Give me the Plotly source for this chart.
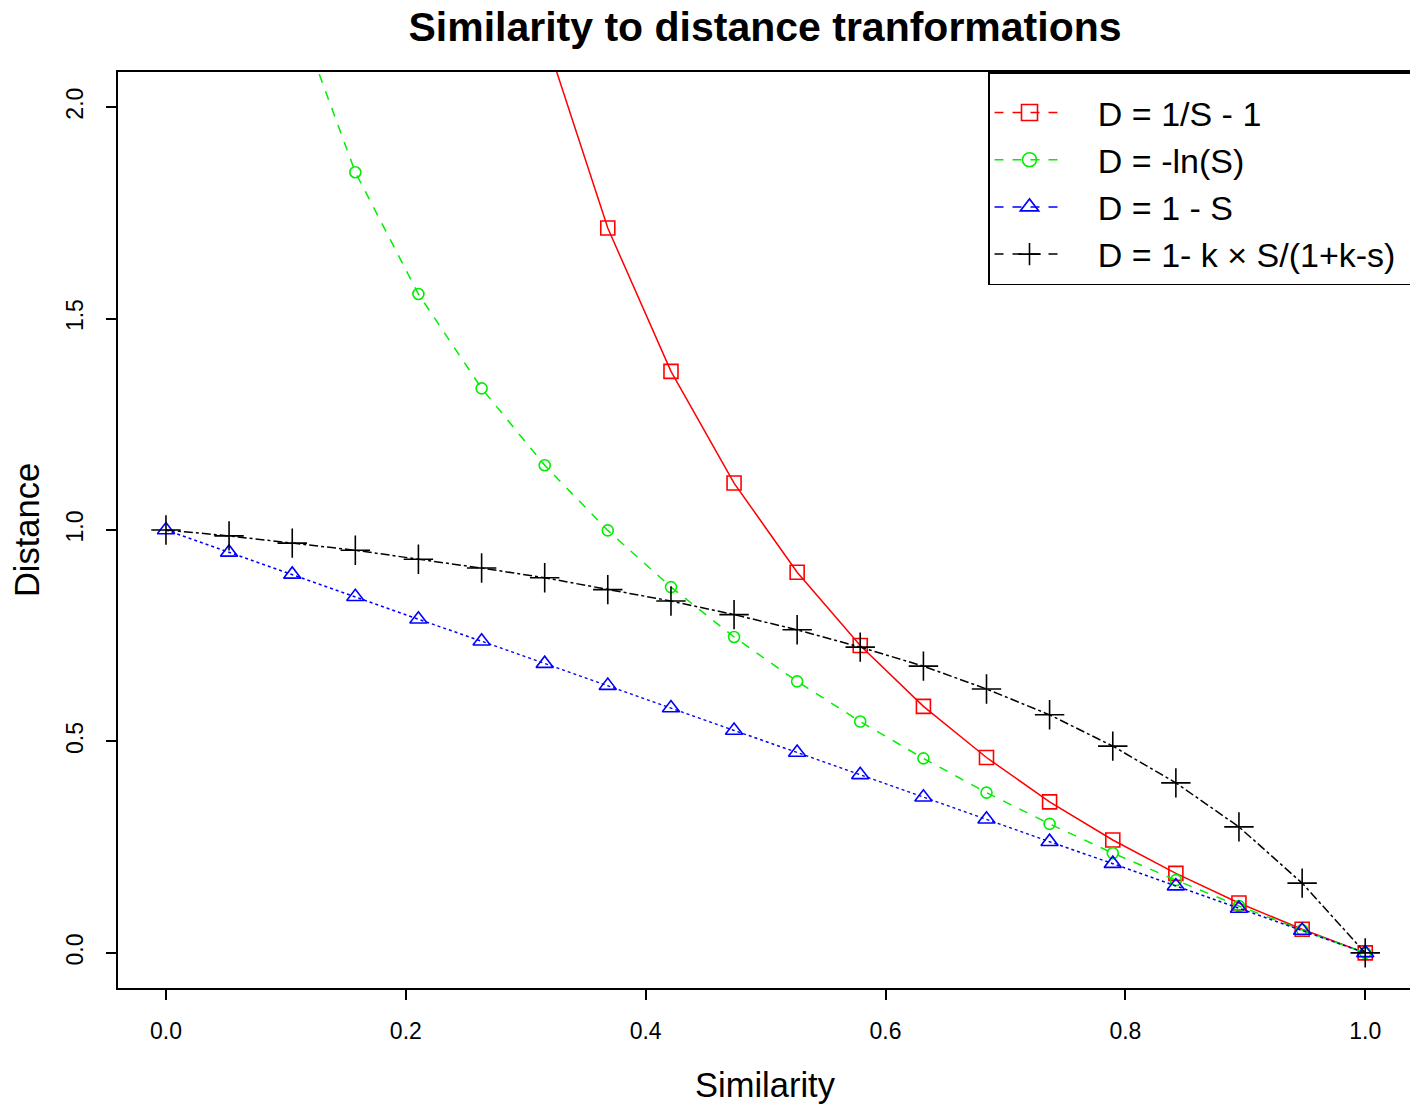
import plotly.graph_objects as go

# Similarity values (20 points, 0..1)
similarity = [0.0, 0.0526, 0.1053, 0.1579, 0.2105, 0.2632, 0.3158, 0.3684, 0.4211, 0.4737,
              0.5263, 0.5789, 0.6316, 0.6842, 0.7368, 0.7895, 0.8421, 0.8947, 0.9474, 1.0]

# D = 1/S - 1 (points above the frame run off the top)
d_inverse = [None, 18.0, 8.5, 5.33, 3.75, 2.8, 2.17, 1.714, 1.375, 1.111,
             0.90, 0.727, 0.583, 0.462, 0.357, 0.267, 0.188, 0.118, 0.056, 0.0]

# D = -ln(S)
d_log = [None, 2.944, 2.251, 1.846, 1.558, 1.335, 1.153, 0.999, 0.865, 0.747,
         0.642, 0.547, 0.460, 0.379, 0.305, 0.236, 0.172, 0.111, 0.054, 0.0]

# D = 1 - S
d_linear = [1.0, 0.947, 0.895, 0.842, 0.789, 0.737, 0.684, 0.632, 0.579, 0.526,
            0.474, 0.421, 0.368, 0.316, 0.263, 0.211, 0.158, 0.105, 0.053, 0.0]

# D = 1 - k*S/(1+k-S)
d_k = [1.0, 0.986, 0.969, 0.952, 0.931, 0.910, 0.887, 0.859, 0.832, 0.800,
       0.764, 0.723, 0.678, 0.624, 0.563, 0.489, 0.402, 0.298, 0.165, 0.0]

legend_labels = ["D = 1/S - 1", "D = -ln(S)", "D = 1 - S", "D = 1- k \u00d7 S/(1+k-s)"]

x_ticks = [0.0, 0.2, 0.4, 0.6, 0.8, 1.0]
x_ticklabels = ["0.0", "0.2", "0.4", "0.6", "0.8", "1.0"]
y_ticks = [0.0, 0.5, 1.0, 1.5, 2.0]
y_ticklabels = ["0.0", "0.5", "1.0", "1.5", "2.0"]

FONT = "Liberation Sans, Arial, sans-serif"
NB = "\u00a0"

series = [
    (d_inverse, "#FF0000", "solid", "square-open", 14),
    (d_log, "#00EE00", "dash", "circle-open", 11),
    (d_linear, "#0000FF", "dot", "triangle-up-open", 15),
    (d_k, "#000000", "dashdot", "cross-thin-open", 21),
]

fig = go.Figure()
for vals, color, dash, sym, size in series:
    fig.add_trace(go.Scatter(
        x=similarity, y=vals, mode="lines+markers",
        line=dict(color=color, width=1.5, dash=dash),
        marker=dict(symbol=sym, size=size, color=color, line=dict(color=color, width=1.6)),
        showlegend=False, cliponaxis=True,
    ))

# legend entries (dashed lines, as in the original legend)
for (vals, color, dash, sym, size), label in zip(series, legend_labels):
    fig.add_trace(go.Scatter(
        x=[None], y=[None], mode="lines+markers", name=NB * 3 + label + NB,
        line=dict(color=color, width=1.5, dash="dash"),
        marker=dict(symbol=sym, size=size + 3, color=color, line=dict(color=color, width=1.6)),
        showlegend=True,
    ))

# the page places the figure 8px from the top-left corner; size/margins compensate
W, H = 1410, 1100
fig.update_layout(
    width=W, height=H,
    paper_bgcolor="white", plot_bgcolor="white",
    margin=dict(l=110, r=6, t=64, b=120),
    font=dict(family=FONT, color="black"),
    title=dict(text="<b>Similarity to distance tranformations</b>",
               font=dict(size=41, family=FONT, color="black"),
               x=757 / W, xanchor="center", y=1 - 19 / H, yanchor="middle"),
    legend=dict(x=1, xanchor="right", y=1, yanchor="top",
                bgcolor="white", bordercolor="black", borderwidth=1.5,
                font=dict(size=34, family=FONT, color="black"),
                title=dict(text=" ", font=dict(size=8)),
                itemwidth=70, tracegroupgap=0),
    xaxis=dict(range=[-0.04, 1.039], tickvals=x_ticks, ticktext=x_ticklabels,
               ticks="outside", ticklen=10, tickwidth=1.5, tickcolor="black",
               tickfont=dict(size=23, family=FONT, color="black"),
               showline=True, linecolor="black", linewidth=1.5, mirror=True,
               showgrid=False, zeroline=False, ticklabelstandoff=12, automargin=False,
               title=dict(text="Similarity", font=dict(size=34.5, family=FONT, color="black"), standoff=30)),
    yaxis=dict(range=[-0.083, 2.083], tickvals=y_ticks, ticktext=y_ticklabels,
               ticks="outside", ticklen=10, tickwidth=1.5, tickcolor="black",
               tickfont=dict(size=23, family=FONT, color="black"), tickangle=-90,
               showline=True, linecolor="black", linewidth=1.5, mirror=True,
               showgrid=False, zeroline=False, ticklabelstandoff=14, automargin=False,
               title=dict(text="Distance", font=dict(size=34.5, family=FONT, color="black"), standoff=26)),
)

fig.write_html("out.html")
